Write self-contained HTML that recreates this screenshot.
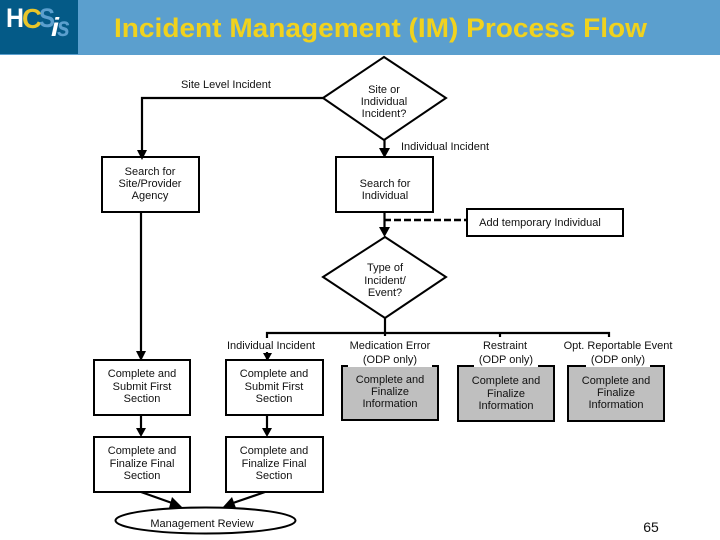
<!DOCTYPE html>
<html>
<head>
<meta charset="utf-8">
<style>
html,body{margin:0;padding:0;background:#fff;}
svg{display:block;}
text{font-family:"Liberation Sans",sans-serif;font-size:11px;fill:#111;text-anchor:middle;}
.l{fill:none;stroke:#000;stroke-width:2.2;}
.b{fill:#fff;stroke:#000;stroke-width:2;}
.g{fill:#bfbfbf;stroke:#000;stroke-width:2;}
</style>
</head>
<body>
<svg width="720" height="540" viewBox="0 0 720 540" xmlns="http://www.w3.org/2000/svg">
<rect x="0" y="0" width="720" height="55" fill="#5b9fce"/>
<rect x="0" y="0" width="78" height="54" fill="#045a87"/>
<text x="22" y="28" style="font-size:28px;font-weight:bold;text-anchor:start;fill:#e9c52a" textLength="20" lengthAdjust="spacingAndGlyphs">C</text>
<text x="6" y="27" style="font-size:27px;font-weight:bold;text-anchor:start;fill:#fff" textLength="18" lengthAdjust="spacingAndGlyphs">H</text>
<text x="39" y="27" style="font-size:27px;font-weight:bold;text-anchor:start;fill:#5b9fce" textLength="16" lengthAdjust="spacingAndGlyphs">S</text>
<text x="51" y="36" style="font-size:26px;font-weight:bold;font-style:italic;text-anchor:start;fill:#fff" textLength="8" lengthAdjust="spacingAndGlyphs">i</text>
<text x="57" y="36" style="font-size:28px;font-weight:bold;font-style:italic;text-anchor:start;fill:#5b9fce" textLength="13" lengthAdjust="spacingAndGlyphs">s</text>

<text x="114" y="37" style="font-size:27px;font-weight:bold;text-anchor:start;fill:#f0d21e" textLength="533" lengthAdjust="spacingAndGlyphs">Incident Management (IM) Process Flow</text>

<polyline class="l" points="323,98 142,98 142,152"/>
<line class="l" x1="384.500" y1="140" x2="384.500" y2="152"/>
<line class="l" x1="141" y1="212" x2="141" y2="355"/>
<line class="l" x1="384.500" y1="212" x2="384.500" y2="232"/>
<line x1="384" y1="220" x2="467" y2="220" stroke="#000" stroke-width="2.400" stroke-dasharray="7 3"/>
<line class="l" x1="385" y1="318" x2="385" y2="336"/>
<polyline class="l" points="267,360 267,333 609,333 609,337"/>
<line class="l" x1="500" y1="333" x2="500" y2="337"/>
<line class="l" x1="141" y1="415" x2="141" y2="432"/>
<line class="l" x1="267" y1="415" x2="267" y2="432"/>
<line class="l" x1="141" y1="492" x2="172" y2="503"/>
<line class="l" x1="265" y1="492" x2="233" y2="503"/>

<polygon class="b" points="323,98 384,57 446,98 384,140"/>
<polygon class="b" points="323,277 385,237 446,277 385,318"/>
<rect class="b" x="102" y="157" width="97" height="55"/>
<rect class="b" x="336" y="157" width="97" height="55"/>
<rect class="b" x="467" y="209" width="156" height="27"/>
<rect class="b" x="94" y="360" width="96" height="55"/>
<rect class="b" x="226" y="360" width="97" height="55"/>
<rect class="b" x="94" y="437" width="96" height="55"/>
<rect class="b" x="226" y="437" width="97" height="55"/>
<rect class="g" x="342" y="366" width="96" height="54"/>
<rect class="g" x="458" y="366" width="96" height="55"/>
<rect class="g" x="568" y="366" width="96" height="55"/>
<ellipse class="b" cx="205.500" cy="520.500" rx="90" ry="13"/>

<rect x="225" y="338" width="94" height="14" fill="#fff"/>
<rect x="348" y="352" width="84" height="15" fill="#fff"/>
<rect x="474" y="352" width="64" height="15" fill="#fff"/>
<rect x="586" y="352" width="64" height="15" fill="#fff"/>

<polygon points="137,150 147,150 142,160" fill="#000"/>
<polygon points="379,148 390,148 384.500,158" fill="#000"/>
<polygon points="379,227 390,227 384.500,237" fill="#000"/>
<polygon points="136,351 146,351 141,361" fill="#000"/>
<polygon points="263,353 272,353 267.500,361" fill="#000"/>
<polygon points="136,428 146,428 141,437" fill="#000"/>
<polygon points="262,428 272,428 267,437" fill="#000"/>
<polygon points="172,497 169,508 183,508" fill="#000"/>
<polygon points="223,507 236,508 232,497" fill="#000"/>

<text x="226" y="88">Site Level Incident</text>
<text x="384" y="93">Site or</text>
<text x="384" y="105">Individual</text>
<text x="384" y="117">Incident?</text>
<text x="445" y="150">Individual Incident</text>
<text x="150" y="175">Search for</text>
<text x="150" y="187">Site/Provider</text>
<text x="150" y="199">Agency</text>
<text x="385" y="187">Search for</text>
<text x="385" y="199">Individual</text>
<text x="540" y="226">Add temporary Individual</text>
<text x="385" y="271">Type of</text>
<text x="385" y="284">Incident/</text>
<text x="385" y="296">Event?</text>
<text x="271" y="349">Individual Incident</text>
<text x="390" y="349">Medication Error</text>
<text x="390" y="363">(ODP only)</text>
<text x="505" y="349">Restraint</text>
<text x="506" y="363">(ODP only)</text>
<text x="618" y="349">Opt. Reportable Event</text>
<text x="618" y="363">(ODP only)</text>
<text x="142" y="377">Complete and</text>
<text x="142" y="390">Submit First</text>
<text x="142" y="402">Section</text>
<text x="274" y="377">Complete and</text>
<text x="274" y="390">Submit First</text>
<text x="274" y="402">Section</text>
<text x="142" y="454">Complete and</text>
<text x="142" y="467">Finalize Final</text>
<text x="142" y="479">Section</text>
<text x="274" y="454">Complete and</text>
<text x="274" y="467">Finalize Final</text>
<text x="274" y="479">Section</text>
<text x="390" y="383">Complete and</text>
<text x="390" y="395">Finalize</text>
<text x="390" y="407">Information</text>
<text x="506" y="384">Complete and</text>
<text x="506" y="397">Finalize</text>
<text x="506" y="409">Information</text>
<text x="616" y="384">Complete and</text>
<text x="616" y="396">Finalize</text>
<text x="616" y="408">Information</text>
<text x="202" y="527">Management Review</text>
<text x="651" y="532" style="font-size:14px">65</text>
</svg>
</body>
</html>
